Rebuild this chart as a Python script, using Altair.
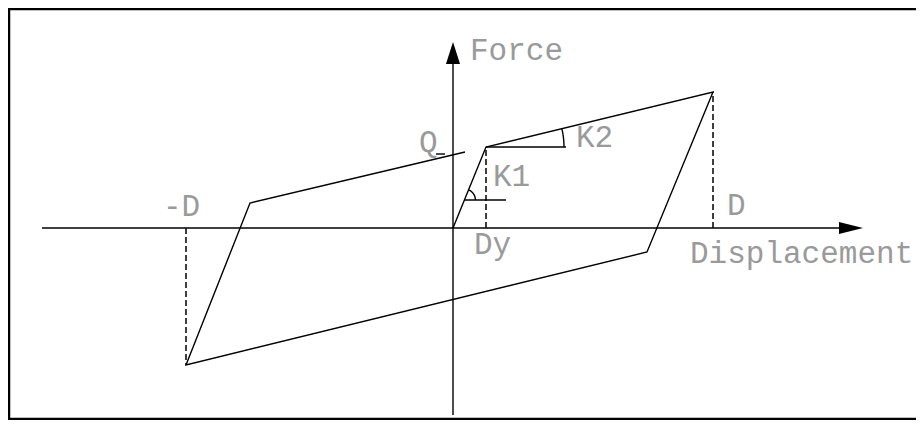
import altair as alt
import pandas as pd
import numpy as np

# ---- diagram data (units: origin at the axes crossing, y up) ----
# hysteresis loop vertices: origin -> yield -> +D peak -> unload -> -D peak -> reload -> towards Q
loop_x = [0, 33, 260, 194, -267, -203, 12]
loop_y = [0, 81, 136, -24, -137, 25, 76]

# axes (start, end) and arrowhead centres
haxis_x = [-411, 388]
vaxis_y = [-187, 166]
harrow_x = 398
varrow_y = 175

# dashed drop lines from loop corners to displacement axis
drop_x = [33, 260, -267]
drop_y = [81, 136, -137]

# reference lines for stiffness angles
k2_line_x = [33, 113]
k2_line_y = [81, 81]
k1_line_x = [11, 53]
k1_line_y = [28, 28]
q_tick_x = [-17, -8]
q_tick_y = [74, 74]

# angle arcs: centre x, centre y, radius, end angle (deg)
k2_arc = (33, 81, 78, 13.6)
k1_arc = (11.4, 28, 11, 67.8)

# frame
frame_x = [463, -444, -444, 463]
frame_y = [219, 219, -191, -191]

labels = ["Force", "Q", "K2", "K1", "Dy", "D", "-D", "Displacement"]
label_x = [17, -34, 123, 40, 21, 274, -290, 237]
label_y = [168, 76, 81, 42, -26, 13, 12, -35]

# ---- build tables ----
segs = []
def add(name, xs, ys):
    for i, (x, y) in enumerate(zip(xs, ys)):
        segs.append({"g": name, "i": i, "x": x, "y": y})

add("loop", loop_x, loop_y)
add("haxis", haxis_x, [0, 0])
add("vaxis", [0, 0], vaxis_y)
add("k2", k2_line_x, k2_line_y)
add("k1", k1_line_x, k1_line_y)
add("q", q_tick_x, q_tick_y)
for name, (cx, cy, r, a) in (("k2arc", k2_arc), ("k1arc", k1_arc)):
    t = np.radians(np.linspace(0, a, 12))
    add(name, list(cx + r * np.cos(t)), list(cy + r * np.sin(t)))
solid = pd.DataFrame(segs)

frame = pd.DataFrame({"i": range(4), "x": frame_x, "y": frame_y})

dash_rows = []
for k, (x, y) in enumerate(zip(drop_x, drop_y)):
    dash_rows += [{"g": k, "i": 0, "x": x, "y": 0}, {"g": k, "i": 1, "x": x, "y": y}]
dashed = pd.DataFrame(dash_rows)

text_df = pd.DataFrame({"t": labels, "x": label_x, "y": label_y})

W, H = 908, 412
xs = alt.Scale(domain=[-445, 463], nice=False, zero=False)
ys = alt.Scale(domain=[-192, 220], nice=False, zero=False)
X = lambda: alt.X("x:Q", scale=xs, axis=None)
Y = lambda: alt.Y("y:Q", scale=ys, axis=None)

base_solid = alt.Chart(solid).mark_line(color="black", strokeWidth=1.4, clip=False).encode(
    x=X(), y=Y(), detail="g:N", order="i:Q")

frame_l = alt.Chart(frame).mark_line(color="black", strokeWidth=2.5, clip=False).encode(
    x=X(), y=Y(), order="i:Q")

dash_l = alt.Chart(dashed).mark_line(color="black", strokeWidth=1.5, strokeDash=[6, 3]).encode(
    x=X(), y=Y(), detail="g:N", order="i:Q")

harrow = alt.Chart(pd.DataFrame({"x": [harrow_x], "y": [0]})).mark_point(
    shape="M-1,-0.5L1,0L-1,0.5Z", size=576, filled=True, color="black", opacity=1, strokeWidth=0
).encode(x=X(), y=Y())

varrow = alt.Chart(pd.DataFrame({"x": [0], "y": [varrow_y]})).mark_point(
    shape="M-0.64,1L0,-1L0.64,1Z", size=484, filled=True, color="black", opacity=1, strokeWidth=0
).encode(x=X(), y=Y())

texts = alt.Chart(text_df).mark_text(
    align="left", baseline="alphabetic", font="Liberation Mono", fontSize=31, color="#9a9a9a"
).encode(x=X(), y=Y(), text="t:N")

chart = alt.layer(frame_l, base_solid, dash_l, harrow, varrow, texts).properties(
    width=W, height=H, padding=0, autosize=alt.AutoSizeParams(type="none")
).configure_view(stroke=None).configure(background="white")

chart.save("out.html", embed_options={"renderer": "svg", "actions": False})
